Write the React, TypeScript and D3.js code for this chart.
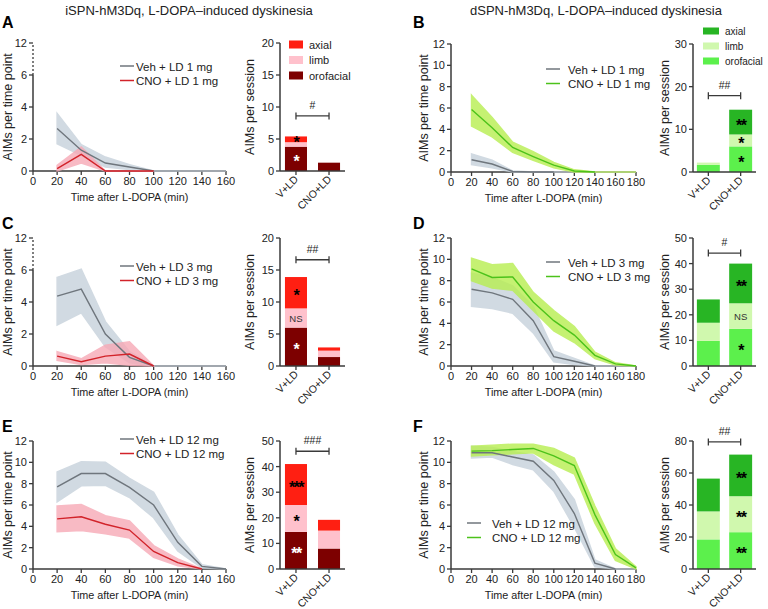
import React from 'react';
import * as d3 from 'd3';

const FONT = '"Liberation Sans", Arial, Helvetica, sans-serif';
const AXIS = '#3a3a3a';

// ---------- time axes ----------
const timesLeft = [20, 40, 60, 80, 100, 120, 140, 160];
const timesRight = [20, 40, 60, 80, 100, 120, 140, 160, 180];
const xTicksLeft = [0, 20, 40, 60, 80, 100, 120, 140, 160];
const xTicksRight = [0, 20, 40, 60, 80, 100, 120, 140, 160, 180];
const yTicksBroken = [0, 2, 4, 6, 12];
const yTicksLine = [0, 2, 4, 6, 8, 10, 12];

// ---------- line series (mean, lower, upper) ----------
const vehA = [2.65, 1.3, 0.5, 0.25, 0, null, null, null];
const vehA_lo = [1.7, 0.98, 0.25, 0.1, 0, 0, 0, 0];
const vehA_hi = [3.6, 1.65, 0.87, 0.4, 0, 0, 0, 0];
const cnoA = [0.15, 1.04, 0, 0, 0, null, null, null];
const cnoA_lo = [0, 0.5, 0, 0, 0, null, null, null];
const cnoA_hi = [0.35, 1.5, 0, 0, 0, null, null, null];

const vehC = [4.37, 4.8, 2.0, 0.54, 0, null, null, null];
const vehC_lo = [2.56, 3.33, 1.2, 0.2, 0, 0, 0, 0];
const vehC_hi = [5.54, 6.15, 2.77, 0.9, 0, 0, 0, 0];
const cnoC = [0.62, 0.27, 0.62, 0.75, 0, null, null, null];
const cnoC_lo = [0.35, 0.1, 0.2, 0.05, 0, null, null, null];
const cnoC_hi = [0.9, 0.45, 1.3, 1.52, 0, null, null, null];

const vehE = [7.7, 8.95, 8.95, 7.65, 6.0, 2.5, 0.25, 0];
const vehE_lo = [6.3, 7.8, 7.85, 6.7, 4.8, 1.7, 0.1, 0];
const vehE_hi = [9.1, 10.05, 10.0, 8.5, 7.2, 3.2, 0.4, 0];
const cnoE = [4.7, 4.9, 4.2, 3.65, 1.65, 0.6, 0, null];
const cnoE_lo = [3.5, 3.6, 3.3, 2.9, 1.1, 0.3, 0, null];
const cnoE_hi = [5.9, 6.05, 5.0, 4.5, 2.2, 0.95, 0, null];

const vehB = [1.15, 0.75, 0.05, 0, 0, null, null, null, null];
const vehB_lo = [0.7, 0.4, 0, 0, 0, 0, 0, 0, 0];
const vehB_hi = [1.7, 1.1, 0.1, 0, 0, 0, 0, 0, 0];
const cnoB = [5.85, 4.15, 2.3, 1.45, 0.65, 0.1, 0, null, null];
const cnoB_lo = [4.3, 3.3, 1.85, 1.1, 0.4, 0, 0, 0, 0];
const cnoB_hi = [7.2, 5.1, 2.8, 1.9, 0.9, 0.2, 0, 0, 0];

const vehD = [7.2, 6.85, 6.25, 4.25, 0.88, 0.45, 0, null, null];
const vehD_lo = [5.6, 5.4, 4.95, 3.1, 0.4, 0.15, 0, 0, 0];
const vehD_hi = [8.7, 8.3, 7.5, 5.6, 1.4, 0.7, 0, 0, 0];
const cnoD = [9.1, 8.3, 8.35, 6.0, 4.25, 2.9, 1.0, 0.2, 0];
const cnoD_lo = [8.0, 7.3, 7.1, 5.2, 3.3, 2.2, 0.7, 0.1, 0];
const cnoD_hi = [10.1, 9.5, 9.6, 6.9, 5.2, 3.7, 1.3, 0.3, 0];

const vehF = [10.9, 10.9, 10.5, 10.1, 8.3, 5.2, 0.55, 0, null];
const vehF_lo = [10.4, 10.5, 9.8, 9.3, 7.3, 3.9, 0.2, 0, 0];
const vehF_hi = [11.5, 11.4, 11.0, 10.7, 9.1, 6.5, 0.85, 0, 0];
const cnoF = [11.05, 11.1, 11.2, 11.3, 10.6, 9.7, 5.1, 1.35, 0.1];
const cnoF_lo = [10.6, 10.7, 10.8, 10.9, 9.8, 8.9, 4.3, 0.8, 0];
const cnoF_hi = [11.5, 11.6, 11.7, 11.7, 11.3, 10.4, 5.9, 1.9, 0.2];

// ---------- stacked bars ----------
const groups = ['V+LD', 'CNO+LD'];
const components = ['orofacial', 'limb', 'axial'];
const legendOrder = ['axial', 'limb', 'orofacial'];
const orofacialA = [3.8, 1.3], limbA = [0.7, 0], axialA = [0.9, 0];
const orofacialB = [1.7, 6.0], limbB = [0.5, 2.8], axialB = [0, 5.8];
const orofacialC = [6.0, 1.4], limbC = [3.0, 1.0], axialC = [4.9, 0.5];
const orofacialD = [9.8, 14.5], limbD = [7.1, 10.0], axialD = [9.1, 15.5];
const orofacialE = [14.5, 8.0], limbE = [10.5, 7.0], axialE = [16.0, 4.2];
const orofacialF = [18.5, 23.0], limbF = [17.5, 22.5], axialF = [20.5, 26.0];

const sessTicksA = [0, 5, 10, 15, 20];
const sessTicksB = [0, 10, 20, 30];
const sessTicksC = [0, 5, 10, 15, 20];
const sessTicksD = [0, 10, 20, 30, 40, 50];
const sessTicksE = [0, 10, 20, 30, 40, 50];
const sessTicksF = [0, 20, 40, 60, 80];

// annotations: [group, component, text, colour]
const marksA = [['V+LD', 'orofacial', '*', '#fff'], ['V+LD', 'axial', '*', '#000']];
const marksB = [['CNO+LD', 'orofacial', '*', '#000'], ['CNO+LD', 'limb', '*', '#000'], ['CNO+LD', 'axial', '**', '#000']];
const marksC = [['V+LD', 'orofacial', '*', '#fff'], ['V+LD', 'limb', 'NS', '#333'], ['V+LD', 'axial', '*', '#000']];
const marksD = [['CNO+LD', 'orofacial', '*', '#000'], ['CNO+LD', 'limb', 'NS', '#333'], ['CNO+LD', 'axial', '**', '#000']];
const marksE = [['V+LD', 'orofacial', '**', '#fff'], ['V+LD', 'limb', '*', '#000'], ['V+LD', 'axial', '***', '#000']];
const marksF = [['CNO+LD', 'orofacial', '**', '#000'], ['CNO+LD', 'limb', '**', '#000'], ['CNO+LD', 'axial', '**', '#000']];
const sigLevels = [8.6, 17.9, 16.6, 44.1, 46, 79.4];
const sigTexts = ['#', '##', '##', '#', '###', '##'];

const titleLeft = 'iSPN-hM3Dq, L-DOPA–induced dyskinesia';
const titleRight = 'dSPN-hM3Dq, L-DOPA–induced dyskinesia';

const redPal: any = { orofacial: '#7d0000', limb: '#ffc1cc', axial: '#ff1f12' };
const greenPal: any = { orofacial: '#5cf04c', limb: '#d0f8ae', axial: '#28b524' };
const VEH = '#6f767d', VEH_BAND = '#c6d1db';
const RED = '#d2232a', RED_BAND = '#f7a9b6';
const GRN = '#4cc21b', GRN_BAND = '#b7ee50';

function LinePanel(p: any) {
  const { x0, x1, xMax, y0, broken, times, series, xTicks, legend, titleDx } = p;
  const x = d3.scaleLinear().domain([0, xMax]).range([x0, x1]);
  const y = broken
    ? d3.scaleLinear().domain([0, 6, 12]).range([y0, y0 - 96, y0 - 128])
    : d3.scaleLinear().domain([0, 12]).range([y0, y0 - 128]);
  const yTicks = broken ? yTicksBroken : yTicksLine;
  const area = d3.area<any>().defined((d) => d.lo != null).x((d) => x(d.t)).y0((d) => y(d.lo)).y1((d) => y(d.hi));
  const line = d3.line<any>().defined((d) => d.m != null).x((d) => x(d.t)).y((d) => y(d.m));
  const rows = series.map((s: any) => times.map((t: number, i: number) => ({ t, m: s.mean[i], lo: s.lo[i], hi: s.hi[i] })));
  return (
    <g fontFamily={FONT}>
      {broken ? (
        <>
          <line x1={x0} x2={x0} y1={y0} y2={y(6)} stroke={AXIS} strokeWidth={1.5} />
          <line x1={x0} x2={x0} y1={y(6)} y2={y(12)} stroke={AXIS} strokeWidth={1.3} strokeDasharray="2,2" />
        </>
      ) : (
        <line x1={x0} x2={x0} y1={y0} y2={y(12)} stroke={AXIS} strokeWidth={1.5} />
      )}
      {yTicks.map((v: number) => (
        <g key={'y' + v}>
          <line x1={x0 - 4} x2={x0} y1={y(v)} y2={y(v)} stroke={AXIS} strokeWidth={1.3} />
          <text x={x0 - 6} y={y(v) + 4} textAnchor="end" fontSize={11} fill="#222">{v}</text>
        </g>
      ))}
      <line x1={x0} x2={x(xMax)} y1={y0} y2={y0} stroke={AXIS} strokeWidth={1.5} />
      {xTicks.map((v: number) => (
        <g key={'x' + v}>
          <line x1={x(v)} x2={x(v)} y1={y0} y2={y0 + 4} stroke={AXIS} strokeWidth={1.3} />
          <text x={x(v)} y={y0 + 14} textAnchor="middle" fontSize={11} fill="#222">{v}</text>
        </g>
      ))}
      <text x={(x0 + x(xMax)) / 2} y={y0 + 30} textAnchor="middle" fontSize={10.8} fill="#222">Time after L-DOPA (min)</text>
      <text transform={`translate(${x0 - titleDx},${y0 - 64}) rotate(-90)`} textAnchor="middle" fontSize={12.5} fill="#222">AIMs per time point</text>
      {rows.map((r: any, i: number) => (
        <path key={'b' + i} d={area(r) || ''} fill={series[i].band} stroke={series[i].band} strokeWidth={1.5} opacity={0.8} />
      ))}
      {rows.map((r: any, i: number) => (
        <path key={'l' + i} d={line(r) || ''} fill="none" stroke={series[i].color} strokeWidth={1.4} />
      ))}
      {series.map((s: any, i: number) => (
        <g key={'lg' + i}>
          <line x1={legend.x} x2={legend.x + 14} y1={legend.y + i * 14.5} y2={legend.y + i * 14.5} stroke={s.color} strokeWidth={1.5} />
          <text x={legend.x + legend.gap} y={legend.y + i * 14.5 + 4.5} fontSize={11.5} fill="#222">{s.label}</text>
        </g>
      ))}
    </g>
  );
}

function BarPanel(p: any) {
  const { ax, y0, max, ticks, oro, limb, axial, pal, marks, sig, sigText, legend, pOuter, pInner, endX, titleDx } = p;
  const data = groups.map((g, i) => ({ group: g, orofacial: oro[i], limb: limb[i], axial: axial[i] }));
  const stack = d3.stack<any>().keys(components)(data);
  const x = d3.scaleBand().domain(groups).range([ax, endX]).paddingInner(pInner).paddingOuter(pOuter);
  const y = d3.scaleLinear().domain([0, max]).range([y0, y0 - 128]);
  const bw = x.bandwidth();
  const cx = (g: string) => (x(g) as number) + bw / 2;
  const segMid = (g: string, k: string) => {
    const layer = stack.find((s) => s.key === k)!;
    const d = layer[groups.indexOf(g)];
    return y((d[0] + d[1]) / 2);
  };
  return (
    <g fontFamily={FONT}>
      {stack.map((layer) =>
        layer.map((d, i) =>
          d[1] - d[0] > 0 ? (
            <rect key={layer.key + i} x={x(groups[i])} width={bw} y={y(d[1])} height={y(d[0]) - y(d[1])} fill={pal[layer.key]} />
          ) : null
        )
      )}
      <line x1={ax} x2={ax} y1={y0} y2={y(max)} stroke={AXIS} strokeWidth={1.5} />
      {ticks.map((v: number) => (
        <g key={'t' + v}>
          <line x1={ax - 4} x2={ax} y1={y(v)} y2={y(v)} stroke={AXIS} strokeWidth={1.3} />
          <text x={ax - 6} y={y(v) + 4} textAnchor="end" fontSize={11} fill="#222">{v}</text>
        </g>
      ))}
      <line x1={ax} x2={endX} y1={y0} y2={y0} stroke={AXIS} strokeWidth={1.5} />
      {groups.map((g) => (
        <g key={g}>
          <line x1={cx(g)} x2={cx(g)} y1={y0} y2={y0 + 4} stroke={AXIS} strokeWidth={1.3} />
          <text transform={`translate(${cx(g) + 3},${y0 + 9}) rotate(-45)`} textAnchor="end" fontSize={10.5} fill="#222">{g}</text>
        </g>
      ))}
      <text transform={`translate(${ax - titleDx},${y0 - 64}) rotate(-90)`} textAnchor="middle" fontSize={12.5} fill="#222">AIMs per session</text>
      {marks.map((m: any, i: number) =>
        m[2] === 'NS' ? (
          <text key={'m' + i} x={cx(m[0])} y={segMid(m[0], m[1]) + 3.5} textAnchor="middle" fontSize={9.5} fill={m[3]}>NS</text>
        ) : (
          <text key={'m' + i} x={cx(m[0])} y={segMid(m[0], m[1]) + 8.5} textAnchor="middle" fontSize={16} fontWeight="bold" fill={m[3]} letterSpacing={-1.5}>{m[2]}</text>
        )
      )}
      <line x1={cx(groups[0])} x2={cx(groups[1])} y1={y(sig)} y2={y(sig)} stroke={AXIS} strokeWidth={1.3} />
      <line x1={cx(groups[0])} x2={cx(groups[0])} y1={y(sig) - 3.5} y2={y(sig) + 3.5} stroke={AXIS} strokeWidth={1.3} />
      <line x1={cx(groups[1])} x2={cx(groups[1])} y1={y(sig) - 3.5} y2={y(sig) + 3.5} stroke={AXIS} strokeWidth={1.3} />
      <text x={(cx(groups[0]) + cx(groups[1])) / 2} y={y(sig) - 7} textAnchor="middle" fontSize={10.5} fill="#222">{sigText}</text>
      {legend &&
        legendOrder.map((k, i) => (
          <g key={'lg' + k}>
            <rect x={legend.x} y={legend.y + i * legend.dy - legend.h / 2} width={legend.w} height={legend.h} fill={pal[k]} />
            <text x={legend.x + legend.w + 6} y={legend.y + i * legend.dy + 4} fontSize={legend.fs} fill="#222">{k}</text>
          </g>
        ))}
    </g>
  );
}

export default function App() {
  const L = { x0: 33, x1: 226, xMax: 160, times: timesLeft, xTicks: xTicksLeft, titleDx: 21 };
  const R = { x0: 451, x1: 636, xMax: 180, times: timesRight, xTicks: xTicksRight, titleDx: 23 };
  const BL = { ax: 280, endX: 345, pInner: 1 / 3, pOuter: 0.15, titleDx: 26 };
  const BR = { ax: 693, endX: 756, pInner: 0.29, pOuter: 0.12, titleDx: 24 };
  const s = (mean: any, lo: any, hi: any, color: string, band: string, label: string) => ({ mean, lo, hi, color, band, label });
  return (
    <svg width={768} height={609} style={{ position: 'absolute', left: 0, top: 0, background: '#fff' }}>
      <rect width={768} height={609} fill="#fff" />
      <text x={189} y={15} textAnchor="middle" fontFamily={FONT} fontSize={13} fill="#222">{titleLeft}</text>
      <text x={596} y={15} textAnchor="middle" fontFamily={FONT} fontSize={13} fill="#222">{titleRight}</text>
      {[['A', 2, 28], ['B', 413, 28], ['C', 2, 229], ['D', 413, 229], ['E', 2, 432], ['F', 413, 432]].map((l: any) => (
        <text key={l[0]} x={l[1]} y={l[2]} fontFamily={FONT} fontSize={16} fontWeight="bold" fill="#000">{l[0]}</text>
      ))}

      <LinePanel {...L} y0={171} broken legend={{ x: 120, y: 66, gap: 16 }}
        series={[s(vehA, vehA_lo, vehA_hi, VEH, VEH_BAND, 'Veh + LD 1 mg'), s(cnoA, cnoA_lo, cnoA_hi, RED, RED_BAND, 'CNO + LD 1 mg')]} />
      <LinePanel {...L} y0={366} broken legend={{ x: 120, y: 266, gap: 16 }}
        series={[s(vehC, vehC_lo, vehC_hi, VEH, VEH_BAND, 'Veh + LD 3 mg'), s(cnoC, cnoC_lo, cnoC_hi, RED, RED_BAND, 'CNO + LD 3 mg')]} />
      <LinePanel {...L} y0={569} legend={{ x: 120, y: 439, gap: 16 }}
        series={[s(vehE, vehE_lo, vehE_hi, VEH, VEH_BAND, 'Veh + LD 12 mg'), s(cnoE, cnoE_lo, cnoE_hi, RED, RED_BAND, 'CNO + LD 12 mg')]} />
      <LinePanel {...R} y0={172} legend={{ x: 546, y: 69, gap: 22 }}
        series={[s(vehB, vehB_lo, vehB_hi, VEH, VEH_BAND, 'Veh + LD 1 mg'), s(cnoB, cnoB_lo, cnoB_hi, GRN, GRN_BAND, 'CNO + LD 1 mg')]} />
      <LinePanel {...R} y0={366} legend={{ x: 546, y: 262, gap: 22 }}
        series={[s(vehD, vehD_lo, vehD_hi, VEH, VEH_BAND, 'Veh + LD 3 mg'), s(cnoD, cnoD_lo, cnoD_hi, GRN, GRN_BAND, 'CNO + LD 3 mg')]} />
      <LinePanel {...R} y0={569} legend={{ x: 467, y: 523, gap: 25 }}
        series={[s(vehF, vehF_lo, vehF_hi, VEH, VEH_BAND, 'Veh + LD 12 mg'), s(cnoF, cnoF_lo, cnoF_hi, GRN, GRN_BAND, 'CNO + LD 12 mg')]} />

      <BarPanel {...BL} y0={171} max={20} ticks={sessTicksA} oro={orofacialA} limb={limbA} axial={axialA} pal={redPal}
        marks={marksA} sig={sigLevels[0]} sigText={sigTexts[0]} legend={{ x: 289, y: 44.5, dy: 15.5, w: 14, h: 8, fs: 11 }} />
      <BarPanel {...BR} y0={172} max={30} ticks={sessTicksB} oro={orofacialB} limb={limbB} axial={axialB} pal={greenPal}
        marks={marksB} sig={sigLevels[1]} sigText={sigTexts[1]} legend={{ x: 703, y: 31, dy: 15, w: 16, h: 7, fs: 10 }} />
      <BarPanel {...BL} y0={366} max={20} ticks={sessTicksC} oro={orofacialC} limb={limbC} axial={axialC} pal={redPal}
        marks={marksC} sig={sigLevels[2]} sigText={sigTexts[2]} />
      <BarPanel {...BR} y0={366} max={50} ticks={sessTicksD} oro={orofacialD} limb={limbD} axial={axialD} pal={greenPal}
        marks={marksD} sig={sigLevels[3]} sigText={sigTexts[3]} />
      <BarPanel {...BL} y0={569} max={50} ticks={sessTicksE} oro={orofacialE} limb={limbE} axial={axialE} pal={redPal}
        marks={marksE} sig={sigLevels[4]} sigText={sigTexts[4]} />
      <BarPanel {...BR} y0={569} max={80} ticks={sessTicksF} oro={orofacialF} limb={limbF} axial={axialF} pal={greenPal}
        marks={marksF} sig={sigLevels[5]} sigText={sigTexts[5]} />
    </svg>
  );
}
